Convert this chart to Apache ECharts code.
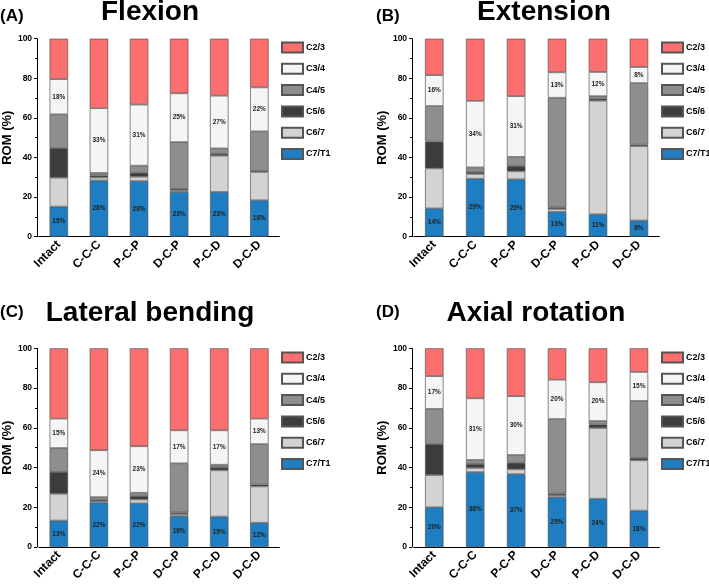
<!DOCTYPE html>
<html>
<head>
<meta charset="utf-8">
<script src="https://cdn.jsdelivr.net/npm/echarts@6/dist/echarts.min.js"></script>
<style>html,body{margin:0;padding:0;background:#fff;}#c{width:709px;height:587px;}</style>
</head>
<body>
<div id="c"></div>
<script>
const categories = ['Intact', 'C-C-C', 'P-C-P', 'D-C-P', 'P-C-D', 'D-C-D'];
const segments = ['C7/T1', 'C6/7', 'C5/6', 'C4/5', 'C3/4', 'C2/3'];
const legendOrder = ['C2/3', 'C3/4', 'C4/5', 'C5/6', 'C6/7', 'C7/T1'];
const yTicks = [0, 20, 40, 60, 80, 100];

// Flexion (%)
const flexion_C7T1 = [15.2, 28.4, 28.1, 22.6, 22.6, 18.4];
const flexion_C67  = [14.6, 1.5, 2.2, 0.8, 18.3, 14.3];
const flexion_C56  = [15.0, 1.0, 2.0, 0.8, 1.0, 0.6];
const flexion_C45  = [17.0, 1.3, 3.6, 23.6, 2.7, 19.9];
const flexion_C34  = [17.8, 32.7, 30.8, 24.6, 26.6, 22.2];
const flexion_C23  = [20.4, 35.1, 33.3, 27.6, 28.8, 24.6];

// Extension (%)
const extension_C7T1 = [14.3, 29.3, 29.0, 12.6, 11.3, 8.2];
const extension_C67  = [20.2, 2.4, 4.0, 1.4, 57.4, 37.6];
const extension_C56  = [13.5, 1.0, 2.7, 0.8, 1.0, 0.7];
const extension_C45  = [18.0, 2.3, 4.6, 55.4, 1.3, 31.1];
const extension_C34  = [15.6, 33.6, 30.7, 12.8, 12.2, 8.1];
const extension_C23  = [18.4, 31.4, 29.0, 17.0, 16.8, 14.3];

// Lateral bending (%)
const lateral_C7T1 = [13.3, 22.3, 22.0, 15.6, 15.3, 12.2];
const lateral_C67  = [13.5, 0.8, 1.9, 1.0, 23.3, 18.3];
const lateral_C56  = [11.0, 0.6, 1.7, 0.8, 1.5, 0.9];
const lateral_C45  = [12.0, 1.4, 1.7, 24.7, 1.3, 20.4];
const lateral_C34  = [14.8, 23.6, 23.4, 16.6, 17.3, 12.8];
const lateral_C23  = [35.4, 51.3, 49.3, 41.3, 41.3, 35.4];

// Axial rotation (%)
const axial_C7T1 = [20.0, 37.7, 36.7, 25.1, 24.3, 18.3];
const axial_C67  = [16.2, 2.1, 2.4, 1.0, 35.6, 25.3];
const axial_C56  = [15.6, 2.0, 3.3, 0.8, 1.7, 1.2];
const axial_C45  = [17.7, 2.0, 3.9, 37.5, 1.8, 28.7];
const axial_C34  = [16.5, 31.0, 29.6, 19.8, 19.5, 14.6];
const axial_C23  = [14.0, 25.2, 24.1, 15.8, 17.1, 11.9];

const panels = [
  { title: 'Flexion', tag: '(A)', data: [flexion_C7T1, flexion_C67, flexion_C56, flexion_C45, flexion_C34, flexion_C23] },
  { title: 'Extension', tag: '(B)', data: [extension_C7T1, extension_C67, extension_C56, extension_C45, extension_C34, extension_C23] },
  { title: 'Lateral bending', tag: '(C)', data: [lateral_C7T1, lateral_C67, lateral_C56, lateral_C45, lateral_C34, lateral_C23] },
  { title: 'Axial rotation', tag: '(D)', data: [axial_C7T1, axial_C67, axial_C56, axial_C45, axial_C34, axial_C23] }
];

const colors = { 'C7/T1': '#1F7DC1', 'C6/7': '#D3D3D3', 'C5/6': '#3C3C3C', 'C4/5': '#8E8E8E', 'C3/4': '#F5F5F5', 'C2/3': '#FC6F6F' };
const FONT = 'Liberation Sans, Arial, sans-serif';

const layout = [
  { grid: { left: 34, top: 38.7, width: 245.4, height: 198 }, legend: { left: 281, top: 41.5 }, title: { x: 150, y: 12 }, tag: { x: 0, y: 16 } },
  { grid: { left: 413.8, top: 38.7, width: 245.6, height: 198 }, legend: { left: 661, top: 41.5 }, title: { x: 544, y: 12 }, tag: { x: 376, y: 16 } },
  { grid: { left: 34, top: 348.3, width: 245.4, height: 198.7 }, legend: { left: 281, top: 351.5 }, title: { x: 150, y: 313 }, tag: { x: 0, y: 312.5 } },
  { grid: { left: 413.8, top: 348.3, width: 245.6, height: 198.7 }, legend: { left: 661, top: 351.5 }, title: { x: 536, y: 313 }, tag: { x: 376, y: 312.5 } }
];

const grids = [], xAxes = [], yAxes = [], legends = [], series = [], graphics = [];
panels.forEach((p, i) => {
  const L = layout[i];
  grids.push(L.grid);
  xAxes.push({
    type: 'category', gridIndex: i, data: categories,
    axisLine: { lineStyle: { color: '#000', width: 1 } },
    axisTick: { alignWithLabel: true, length: 4, lineStyle: { color: '#000' } },
    axisLabel: { rotate: 45, interval: 0, margin: 6, color: '#000', fontWeight: 'bold', fontSize: 12, fontFamily: FONT }
  });
  yAxes.push({
    type: 'value', gridIndex: i, min: yTicks[0], max: yTicks[yTicks.length - 1], interval: 20, offset: 1.7,
    name: 'ROM (%)', nameLocation: 'middle', nameGap: 17,
    nameTextStyle: { fontSize: 13, fontWeight: 'bold', color: '#000', fontFamily: FONT },
    axisLine: { show: true, lineStyle: { color: '#000', width: 1 } },
    axisTick: { show: true, length: 3, lineStyle: { color: '#000' } },
    minorTick: { show: true, splitNumber: 2, length: 2, lineStyle: { color: '#000' } },
    splitLine: { show: false },
    axisLabel: { margin: 5, color: '#000', fontWeight: 'bold', fontSize: 8.5, fontFamily: FONT }
  });
  legends.push({
    data: legendOrder, orient: 'vertical', left: L.legend.left, top: L.legend.top,
    itemWidth: 21, itemHeight: 10, itemGap: 9.3, padding: 0, selectedMode: false, icon: 'rect',
    textStyle: { fontSize: 9, fontWeight: 'bold', color: '#000', fontFamily: FONT, padding: [0, 0, 0, -2] }
  });
  segments.forEach((s, k) => {
    const showLabel = (s === 'C7/T1' || s === 'C3/4');
    series.push({
      type: 'bar', name: s, xAxisIndex: i, yAxisIndex: i, stack: 'p' + i,
      barWidth: 18.5, data: p.data[k],
      itemStyle: { color: colors[s], borderColor: '#555', borderWidth: 0.7 },
      label: {
        show: showLabel, position: 'inside', formatter: q => Math.round(q.value) + '%',
        fontSize: 6.5, fontWeight: 'bold', color: '#222', fontFamily: FONT
      },
      emphasis: { disabled: true }
    });
  });
  graphics.push({
    type: 'text', x: L.title.x, y: L.title.y,
    style: { text: p.title, font: 'bold 28px ' + FONT, fill: '#000', textAlign: 'center', textVerticalAlign: 'middle' }
  });
  graphics.push({
    type: 'text', x: L.tag.x, y: L.tag.y,
    style: { text: p.tag, font: 'bold 17px ' + FONT, fill: '#000', textAlign: 'left', textVerticalAlign: 'middle' }
  });
});

const chart = echarts.init(document.getElementById('c'), null, { renderer: 'canvas' });
chart.setOption({
  animation: false,
  backgroundColor: '#fff',
  grid: grids, xAxis: xAxes, yAxis: yAxes, legend: legends, series: series, graphic: graphics
});
</script>
</body>
</html>
